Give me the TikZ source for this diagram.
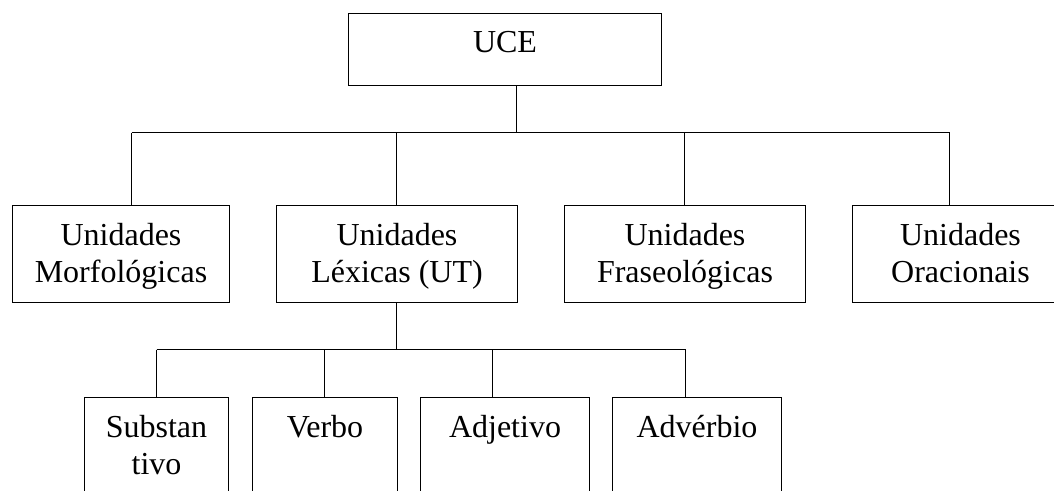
\documentclass[tikz,border=0pt]{standalone}
\usepackage{fontspec}
\setmainfont{Liberation Serif}
\usepackage{tikz}
\usetikzlibrary{shapes}
\tikzstyle{unit} = [rectangle, draw=black, line width=1.7pt, inner sep=0pt]
\tikzstyle{caption} = [font=\fontsize{32}{37}\selectfont, align=center,
anchor=north, inner sep=0pt, yshift=-18pt]
\tikzstyle{link} = [-, line width=1.7pt]
\newcommand{\unitbox}[5]{ %
  % Box #1 centred at #2, #3 wide and #4 high; text #5 hangs from its top.
  \node[unit, minimum width=#3, minimum height=#4,
  label={[caption, name=#1-caption]north:{#5}}] (#1) at (#2) {} ; %
}
\newcommand{\branch}[2]{ %
  % Drop from each bar point to the top of its box.
  \foreach \d/\n in {#2} { %
    \draw[link] (\d) -- (\d |- \n.north) ; %
  } ;
  \draw[link] (#1) ; %
}

\begin{document}
\begin{tikzpicture}[x=1pt,y=-1pt]

	\useasboundingbox (0,0) rectangle (1054,490);
	\clip (0,0) rectangle (1054,490);

	% top
	\unitbox {uce}  {505,49.5}  {313pt} {72pt} {UCE};

	% second row
	\unitbox {morf} {121,254}   {217pt} {97pt} {Unidades\\Morfológicas};
	\unitbox {lex}  {397,254}   {241pt} {97pt} {Unidades\\Léxicas (UT)};
	\unitbox {fras} {685,254}   {241pt} {97pt} {Unidades\\Fraseológicas};
	\unitbox {orac} {960.5,254} {216pt} {97pt} {Unidades\\Oracionais};

	% third row
	\unitbox {subst} {156.5,457.5} {144pt} {120pt} {Substan\\tivo};
	\unitbox {verbo} {325,457.5}   {145pt} {120pt} {Verbo};
	\unitbox {adj}   {505,457.5}   {169pt} {120pt} {Adjetivo};
	\unitbox {adv}   {697,457.5}   {169pt} {120pt} {Advérbio};

	\coordinate (hub0) at (516.5,132.5);
	\coordinate (bar0a) at (131.5,132.5);
	\coordinate (bar0b) at (396.5,132.5);
	\coordinate (bar0c) at (684.5,132.5);
	\coordinate (bar0d) at (949.5,132.5);

	\coordinate (hub1) at (396.5,349.5);
	\coordinate (bar1a) at (156.5,349.5);
	\coordinate (bar1b) at (324.5,349.5);
	\coordinate (bar1c) at (492.5,349.5);
	\coordinate (bar1d) at (685.5,349.5);

	\draw[link] (uce.south -| hub0) -- (hub0);
	\branch {bar0a) -- (bar0d} {bar0a/morf, bar0b/lex, bar0c/fras, bar0d/orac};

	\draw[link] (lex.south -| hub1) -- (hub1);
	\branch {bar1a) -- (bar1d} {bar1a/subst, bar1b/verbo, bar1c/adj, bar1d/adv};

\end{tikzpicture}
\end{document}
